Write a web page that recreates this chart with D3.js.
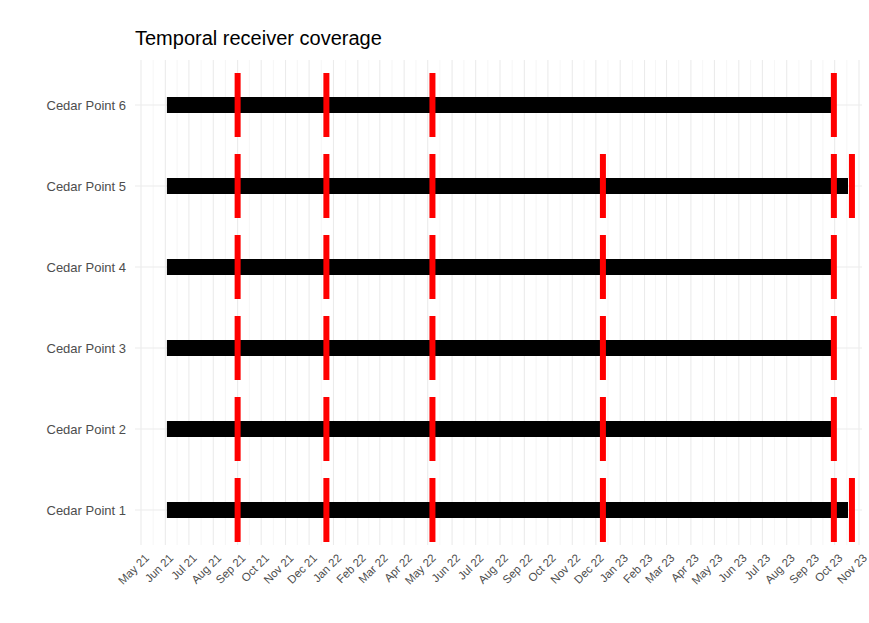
<!DOCTYPE html>
<html><head><meta charset="utf-8">
<script src="https://cdn.jsdelivr.net/npm/d3@7"></script>
<style>body{margin:0;background:#fff;font-family:"Liberation Sans",Arial,sans-serif}</style>
</head><body><svg id="chart" width="869" height="623"></svg>
<script>
// receivers top to bottom
const receivers = ['Cedar Point 6', 'Cedar Point 5', 'Cedar Point 4', 'Cedar Point 3', 'Cedar Point 2', 'Cedar Point 1'];
const coverageStart = ['2021-06-03', '2021-06-03', '2021-06-03', '2021-06-03', '2021-06-03', '2021-06-03'];
const coverageEnd = ['2023-09-27', '2023-10-18', '2023-09-27', '2023-09-27', '2023-09-27', '2023-10-18'];
const downloads = [
    ['2021-09-01', '2021-12-23', '2022-05-07', '2023-09-30'],
    ['2021-09-01', '2021-12-23', '2022-05-07', '2022-12-10', '2023-09-30', '2023-10-23'],
    ['2021-09-01', '2021-12-23', '2022-05-07', '2022-12-10', '2023-09-30'],
    ['2021-09-01', '2021-12-23', '2022-05-07', '2022-12-10', '2023-09-30'],
    ['2021-09-01', '2021-12-23', '2022-05-07', '2022-12-10', '2023-09-30'],
    ['2021-09-01', '2021-12-23', '2022-05-07', '2022-12-10', '2023-09-30', '2023-10-23']
];

const parse = d3.timeParse('%Y-%m-%d');
const svg = d3.select('#chart');
const panelTop = 60, panelBottom = 545, panelLeft = 135, panelRight = 862;

const x = d3.scaleTime()
    .domain([new Date(2021, 4, 1), new Date(2023, 10, 1)])
    .range([141, 859]);
const y = d3.scalePoint().domain(receivers).range([105, 510]);

const months = d3.timeMonth.range(new Date(2021, 4, 1), new Date(2023, 11, 1));
const minor = months.slice(0, -1).map((m, i) => new Date((+m + +months[i + 1]) / 2));

// grid
svg.selectAll('.minor').data(minor).enter().append('line')
    .attr('x1', d => x(d)).attr('x2', d => x(d)).attr('y1', panelTop).attr('y2', panelBottom)
    .attr('stroke', '#f0f0f0').attr('stroke-width', 0.6);
svg.selectAll('.major').data(months).enter().append('line')
    .attr('x1', d => x(d)).attr('x2', d => x(d)).attr('y1', panelTop).attr('y2', panelBottom)
    .attr('stroke', '#ebebeb').attr('stroke-width', 1.1);
svg.selectAll('.hgrid').data(receivers).enter().append('line')
    .attr('x1', panelLeft).attr('x2', panelRight).attr('y1', d => y(d)).attr('y2', d => y(d))
    .attr('stroke', '#ebebeb').attr('stroke-width', 1.1);

// coverage bars
svg.selectAll('.bar').data(receivers).enter().append('rect')
    .attr('x', (d, i) => x(parse(coverageStart[i])))
    .attr('width', (d, i) => x(parse(coverageEnd[i])) - x(parse(coverageStart[i])))
    .attr('y', d => y(d) - 8).attr('height', 16)
    .attr('fill', '#000');

// download markers
receivers.forEach((r, i) => {
    svg.selectAll(null).data(downloads[i]).enter().append('rect')
        .attr('x', d => x(parse(d)) - 3).attr('width', 6)
        .attr('y', y(r) - 32).attr('height', 64)
        .attr('fill', '#ff0000');
});

// y labels
svg.selectAll('.ylab').data(receivers).enter().append('text')
    .attr('x', 126).attr('y', d => y(d)).attr('dy', '0.35em')
    .attr('text-anchor', 'end').attr('font-size', 13).attr('fill', '#4d4d4d')
    .text(d => d);

// x labels
const fmt = d3.timeFormat('%b %y');
svg.selectAll('.xlab').data(months).enter().append('text')
    .attr('transform', d => `translate(${x(d) + 3},${panelBottom + 8}) rotate(-45)`)
    .attr('text-anchor', 'end').attr('dy', '0.7em').attr('font-size', 11.5).attr('fill', '#4d4d4d')
    .text(d => fmt(d));

svg.append('text').attr('x', 135).attr('y', 45)
    .attr('font-size', 20).attr('fill', '#000')
    .text('Temporal receiver coverage');
</script></body></html>
